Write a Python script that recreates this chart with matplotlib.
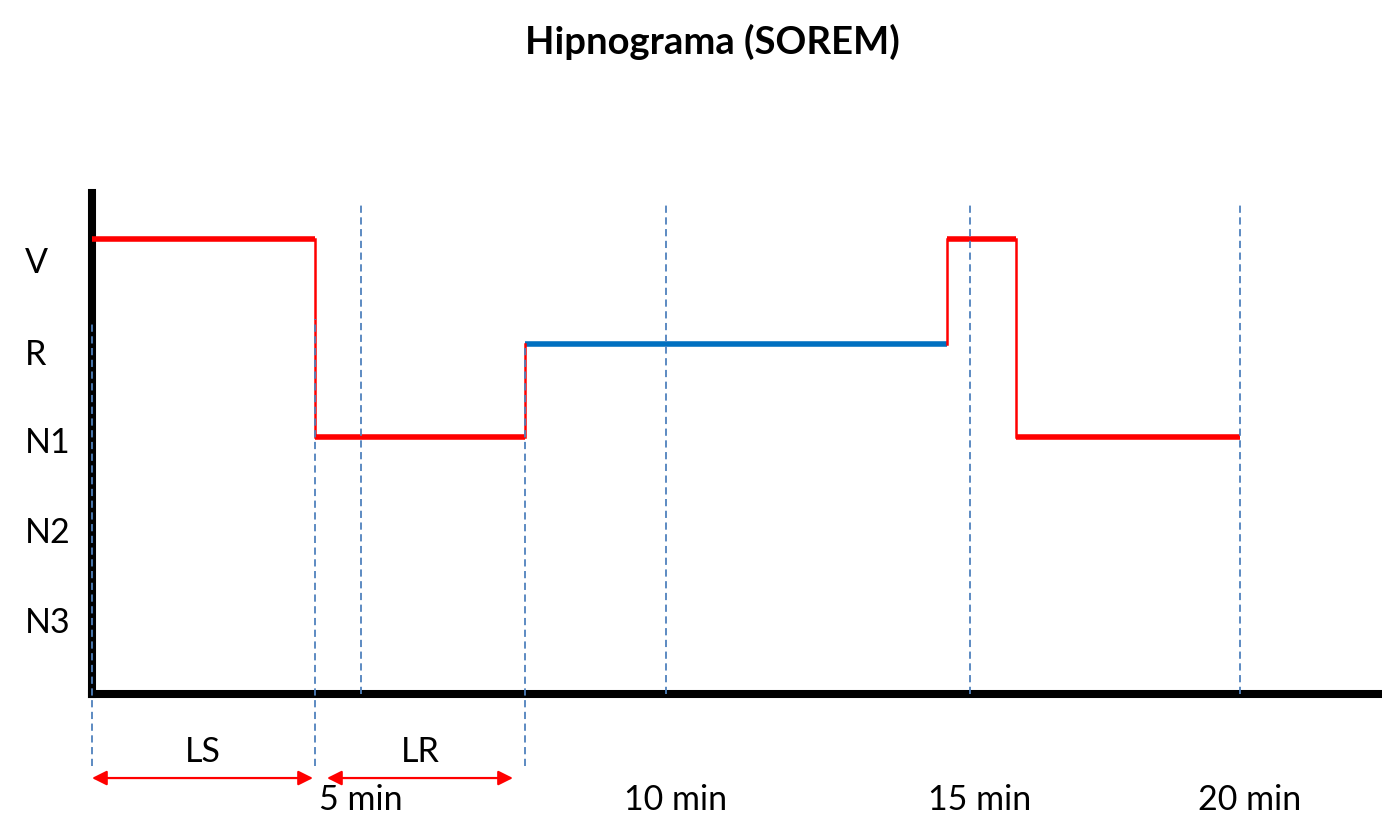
import matplotlib.pyplot as plt

# hypnogram data (time in minutes, stage level)
seg_start = [0.0, 3.885, 7.54, 14.9, 16.1]
seg_end = [3.885, 7.54, 14.9, 16.1, 20.0]
seg_level = [5.22, 3.02, 4.06, 5.22, 3.02]
seg_color = ['#FF0000', '#FF0000', '#0070C0', '#FF0000', '#FF0000']

stage_labels = ['N3', 'N2', 'N1', 'R', 'V']
stage_pos = [1, 2, 3, 3.98, 5]

# dashed reference lines: x, bottom, top
guide_x = [0.0, 3.885, 4.69, 7.54, 10.0, 15.3, 20.0]
guide_lo = [-0.633, -0.633, 0.167, -0.633, 0.167, 0.167, 0.167]
guide_hi = [4.31, 4.33, 5.61, 4.06, 5.61, 5.61, 5.61]

time_labels = ['5 min', '10 min', '15 min', '20 min']
time_label_x = [4.69, 10.16, 15.47, 20.16]

# latency spans (LS = sleep latency, LR = REM latency)
span_names = ['LS', 'LR']
span_start = [0.0, 4.094]
span_end = [3.85, 7.334]

plt.rcParams['font.family'] = ['Lato', 'DejaVu Sans']

fig = plt.figure(figsize=(13.82, 8.29), dpi=100)
ax = fig.add_axes([92 / 1382, 134 / 829, 1288 / 1382, 501 / 829])
ax.set_xlim(0, 1288 / 57.4)
ax.set_ylim(0.1667, 5.733)

for side in ['top', 'right']:
    ax.spines[side].set_visible(False)
for side in ['left', 'bottom']:
    ax.spines[side].set_linewidth(5.8)
    ax.spines[side].set_color('black')

# hypnogram: horizontal stage segments + vertical transitions
for i in range(len(seg_start)):
    ax.plot([seg_start[i], seg_end[i]], [seg_level[i], seg_level[i]],
            color=seg_color[i], lw=4, solid_capstyle='butt', zorder=3)
for i in range(1, len(seg_start)):
    ax.plot([seg_start[i], seg_start[i]], [seg_level[i - 1], seg_level[i]],
            color='#FF0000', lw=1.8, zorder=3)

for x, lo, hi in zip(guide_x, guide_lo, guide_hi):
    ax.plot([x, x], [lo, hi], color='#4F81BD', lw=1.3, dashes=(4, 2.5),
            clip_on=False, zorder=5)

for name, a, b in zip(span_names, span_start, span_end):
    ax.annotate('', xy=(b, -0.767), xytext=(a, -0.767),
                arrowprops=dict(arrowstyle='<|-|>', color='#FF0000', lw=1.6,
                                mutation_scale=22, shrinkA=0, shrinkB=0),
                annotation_clip=False)
    ax.text((a + b) / 2, -0.47, name, ha='center', va='center', fontsize=24.5)

ax.set_yticks(stage_pos, stage_labels)
ax.tick_params(axis='y', length=0, pad=48, labelsize=24.5)
for lab in ax.get_yticklabels():
    lab.set_horizontalalignment('left')

ax.set_xticks(time_label_x, time_labels)
ax.tick_params(axis='x', length=0, pad=64, labelsize=24.5)

fig.text(712 / 1382, 1 - 42 / 829, 'Hipnograma (SOREM)', ha='center',
         va='center', fontsize=27.5, fontweight='bold')

fig.savefig('out.png', dpi=100)
